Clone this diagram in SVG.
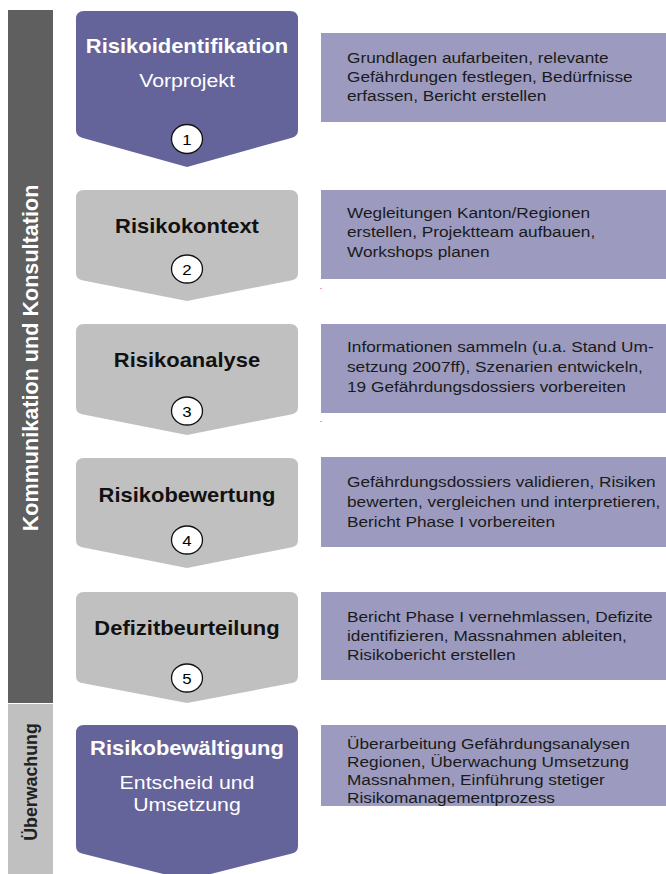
<svg xmlns="http://www.w3.org/2000/svg" width="666" height="874" viewBox="0 0 666 874">
<style>
.purple{fill:#64639a}
.gray{fill:#c0c0c0}
.box{fill:#9c9bbf}
.title{font-family:"Liberation Sans",Arial,sans-serif;font-weight:bold;font-size:19.6px;text-anchor:middle}
.sub{font-family:"Liberation Sans",Arial,sans-serif;font-size:19px;text-anchor:middle;fill:#ffffff}
.desc{font-family:"Liberation Sans",Arial,sans-serif;font-size:15.4px;fill:#1a1a1a}
.num{font-family:"Liberation Sans",Arial,sans-serif;font-size:15px;text-anchor:middle;fill:#000}
.circ{fill:#ffffff;stroke:#111;stroke-width:1.3}
.side{font-family:"Liberation Sans",Arial,sans-serif;font-weight:bold;text-anchor:middle}
</style>
<rect width="666" height="874" fill="#ffffff"/>
<g id="sidebar">
<rect x="8" y="10" width="45" height="693" fill="#5f5f5f"/>
<rect x="8" y="704" width="45" height="170" fill="#c0c0c0"/>
<text class="side" font-size="21.6" fill="#ffffff" transform="translate(37.5,358) rotate(-90)">Kommunikation und Konsultation</text>
<text class="side" font-size="17.8" fill="#222222" transform="translate(37,782) scale(1.08,1) rotate(-90)">Überwachung</text>
</g>
<g id="connectors"></g>
<g id="node1">
<path class="purple" d="M84,11 H290 Q298,11 298,19 V130 Q298,136 292,137.7 L187,167 L82,137.7 Q76,136 76,130 V19 Q76,11 84,11 Z"/>
<text class="title" fill="#ffffff" transform="translate(187,53) scale(1.12,1)">Risikoidentifikation</text>
<text class="sub" transform="translate(187,87) scale(1.12,1)">Vorprojekt</text>
<ellipse class="circ" cx="187" cy="139" rx="15.5" ry="14.5"/>
<text class="num" transform="translate(187,144.5) scale(1.12,1)">1</text>
</g>
<g id="node2">
<path class="gray" d="M84,190 H290 Q298,190 298,198 V273 Q298,279 292,280.2 L187,301 L82,280.2 Q76,279 76,273 V198 Q76,190 84,190 Z"/>
<text class="title" fill="#111111" transform="translate(187,233) scale(1.12,1)">Risikokontext</text>
<ellipse class="circ" cx="187" cy="269" rx="15.5" ry="14"/>
<text class="num" transform="translate(187,274.5) scale(1.12,1)">2</text>
</g>
<g id="node3">
<path class="gray" d="M84,324 H290 Q298,324 298,332 V407 Q298,413 292,414.2 L187,435 L82,414.2 Q76,413 76,407 V332 Q76,324 84,324 Z"/>
<text class="title" fill="#111111" transform="translate(187,367) scale(1.12,1)">Risikoanalyse</text>
<ellipse class="circ" cx="187" cy="411" rx="15.5" ry="14"/>
<text class="num" transform="translate(187,416.5) scale(1.12,1)">3</text>
</g>
<g id="node4">
<path class="gray" d="M84,458 H290 Q298,458 298,466 V540 Q298,546 292,547.2 L187,568 L82,547.2 Q76,546 76,540 V466 Q76,458 84,458 Z"/>
<text class="title" fill="#111111" transform="translate(187,502) scale(1.12,1)">Risikobewertung</text>
<ellipse class="circ" cx="187" cy="540" rx="15.5" ry="14"/>
<text class="num" transform="translate(187,545.5) scale(1.12,1)">4</text>
</g>
<g id="node5">
<path class="gray" d="M84,592 H290 Q298,592 298,600 V676 Q298,682 292,683.1 L187,703 L82,683.1 Q76,682 76,676 V600 Q76,592 84,592 Z"/>
<text class="title" fill="#111111" transform="translate(187,635) scale(1.12,1)">Defizitbeurteilung</text>
<ellipse class="circ" cx="187" cy="678" rx="15.5" ry="14"/>
<text class="num" transform="translate(187,683.5) scale(1.12,1)">5</text>
</g>
<g id="node6">
<path class="purple" d="M84,725 H290 Q298,725 298,733 V846 Q298,852 292,853.4 L187,880 L82,853.4 Q76,852 76,846 V733 Q76,725 84,725 Z"/>
<text class="title" fill="#ffffff" transform="translate(187,755) scale(1.12,1)">Risikobewältigung</text>
<text class="sub" transform="translate(187,789) scale(1.12,1)">Entscheid und</text>
<text class="sub" transform="translate(187,811) scale(1.12,1)">Umsetzung</text>
</g>
<g id="desc1">
<rect class="box" x="321" y="33" width="345" height="89"/>
<text class="desc" transform="translate(347,63) scale(1.12,1)"><tspan x="0" y="0">Grundlagen aufarbeiten, relevante</tspan><tspan x="0" y="19">Gefährdungen festlegen, Bedürfnisse</tspan><tspan x="0" y="38">erfassen, Bericht erstellen</tspan></text>
</g>
<g id="desc2">
<rect class="box" x="321" y="190" width="345" height="89"/>
<text class="desc" transform="translate(347,218) scale(1.12,1)"><tspan x="0" y="0">Wegleitungen Kanton/Regionen</tspan><tspan x="0" y="19.5">erstellen, Projektteam aufbauen,</tspan><tspan x="0" y="39">Workshops planen</tspan></text>
</g>
<g id="desc3">
<rect class="box" x="321" y="324" width="345" height="89"/>
<text class="desc" transform="translate(347,352) scale(1.12,1)"><tspan x="0" y="0">Informationen sammeln (u.a. Stand Um-</tspan><tspan x="0" y="20">setzung 2007ff), Szenarien entwickeln,</tspan><tspan x="0" y="40">19 Gefährdungsdossiers vorbereiten</tspan></text>
</g>
<g id="desc4">
<rect class="box" x="321" y="457" width="345" height="90"/>
<text class="desc" transform="translate(347,487) scale(1.12,1)"><tspan x="0" y="0">Gefährdungsdossiers validieren, Risiken</tspan><tspan x="0" y="20">bewerten, vergleichen und interpretieren,</tspan><tspan x="0" y="40">Bericht Phase I vorbereiten</tspan></text>
</g>
<g id="desc5">
<rect class="box" x="321" y="592" width="345" height="88"/>
<text class="desc" transform="translate(347,622) scale(1.12,1)"><tspan x="0" y="0">Bericht Phase I vernehmlassen, Defizite</tspan><tspan x="0" y="19">identifizieren, Massnahmen ableiten,</tspan><tspan x="0" y="38">Risikobericht erstellen</tspan></text>
</g>
<g id="desc6">
<rect class="box" x="321" y="725" width="345" height="81"/>
<text class="desc" transform="translate(347,749) scale(1.12,1)"><tspan x="0" y="0">Überarbeitung Gefährdungsanalysen</tspan><tspan x="0" y="18">Regionen, Überwachung Umsetzung</tspan><tspan x="0" y="36">Massnahmen, Einführung stetiger</tspan><tspan x="0" y="54">Risikomanagementprozess</tspan></text>
</g>
<rect x="320" y="288" width="2" height="1" fill="#f0a0a0"/>
<rect x="320" y="421" width="2" height="1" fill="#f0a0a0"/>
</svg>
